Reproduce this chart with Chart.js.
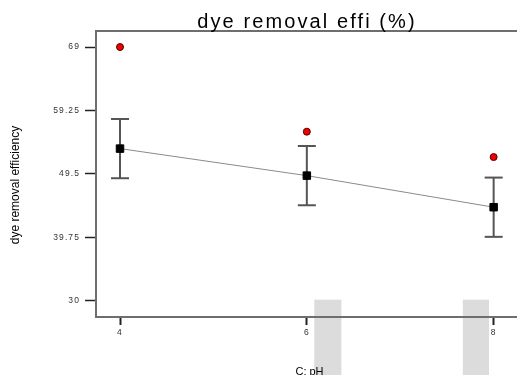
<!DOCTYPE html>
<html>
<head>
<meta charset="utf-8">
<script src="https://cdn.jsdelivr.net/npm/chart.js@4.4.1/dist/chart.umd.min.js"></script>
<style>
  html, body { margin: 0; padding: 0; background: #fff; }
  canvas { display: block; }
</style>
</head>
<body>
<canvas id="c" width="517" height="375"></canvas>
<script>
// pH levels and the model's predicted mean response at each
const phLevels = [4, 6, 8];
const predictedMean = [53.4, 49.25, 44.4];
// half-width of the LSD bar around each mean
const lsdHalfWidth = [4.55, 4.55, 4.55];
// measured design points
const observed = [69.0, 56.0, 52.1];

const yTickValues = [30, 39.75, 49.5, 59.25, 69];
const xTickValues = [4, 6, 8];

// grey bands along the pH axis
const bandFrom = [6.08, 7.67];
const bandTo = [6.37, 7.95];
const bandTop = 30.2;
const bandBottom = 15;

const titleText = 'dye removal effi (%)';
const yTitleText = 'dye removal efficiency';
const xTitleText = 'C: pH';

const FONT = "'Liberation Sans', Arial, Helvetica, sans-serif";
Chart.defaults.font.family = FONT;

// LSD bars as broken line segments: low -> high, then a gap
const lsdSegments = [];
phLevels.forEach((x, i) => {
  lsdSegments.push({ x: x, y: predictedMean[i] - lsdHalfWidth[i] });
  lsdSegments.push({ x: x, y: predictedMean[i] + lsdHalfWidth[i] });
  lsdSegments.push({ x: x, y: null });
});

const meanPoints = phLevels.map((x, i) => ({ x: x, y: predictedMean[i] }));
const observedPoints = phLevels.map((x, i) => ({ x: x, y: observed[i] }));

const X_MIN = 3.743, X_MAX = 8.25;
const Y_MIN = 27.54, Y_MAX = 71.46;
const AXIS_COLOR = '#6e6e6e';

const decor = {
  id: 'decor',
  beforeDraw(chart) {
    const { ctx, scales } = chart;
    const x = scales.x, y = scales.y;
    ctx.save();
    ctx.fillStyle = '#dcdcdc';
    bandFrom.forEach((a, i) => {
      const l = x.getPixelForValue(a);
      const r = x.getPixelForValue(bandTo[i]);
      const t = y.getPixelForValue(bandTop);
      const b = y.getPixelForValue(bandBottom);
      ctx.fillRect(l, t, r - l, b - t);
    });
    ctx.restore();
    // tick labels are set with a little extra tracking
    ctx.letterSpacing = '1.1px';
  },
  afterDraw(chart) {
    const { ctx, chartArea } = chart;
    const cx = (chartArea.left + chartArea.right) / 2;
    ctx.save();
    ctx.fillStyle = '#000';
    ctx.textAlign = 'center';
    ctx.textBaseline = 'alphabetic';

    ctx.letterSpacing = '2.1px';
    ctx.font = '20px ' + FONT;
    ctx.fillText(titleText, cx + 0.5, 28);

    ctx.letterSpacing = '0px';
    ctx.font = '11px ' + FONT;
    ctx.fillText(xTitleText, cx + 3, 374.5);

    ctx.font = '12px ' + FONT;
    ctx.translate(19, 185);
    ctx.rotate(-Math.PI / 2);
    ctx.fillText(yTitleText, 0, 0);
    ctx.restore();
  }
};

new Chart(document.getElementById('c'), {
  type: 'line',
  data: {
    datasets: [
      {
        label: 'observed',
        data: observedPoints,
        showLine: false,
        pointStyle: 'circle',
        pointRadius: 3.5,
        pointBackgroundColor: '#ee0000',
        pointBorderColor: '#550000',
        pointBorderWidth: 1,
        order: 0
      },
      {
        label: 'mean',
        data: meanPoints,
        showLine: false,
        pointStyle: 'rect',
        pointRadius: 5.3,
        pointBackgroundColor: '#000',
        pointBorderColor: '#000',
        pointBorderWidth: 1,
        order: 1
      },
      {
        label: 'lsd',
        data: lsdSegments,
        borderColor: '#555',
        borderWidth: 2,
        spanGaps: false,
        pointStyle: 'line',
        pointRadius: 9,
        pointBorderColor: '#555',
        pointBorderWidth: 2,
        order: 2
      },
      {
        label: 'trend',
        data: meanPoints,
        borderColor: '#8a8a8a',
        borderWidth: 1,
        pointRadius: 0,
        order: 3
      }
    ]
  },
  options: {
    responsive: false,
    animation: false,
    events: [],
    devicePixelRatio: 1,
    layout: { autoPadding: false, padding: { top: 31, left: 0, right: 0, bottom: 0 } },
    plugins: {
      legend: { display: false },
      title: { display: false },
      tooltip: { enabled: false }
    },
    scales: {
      x: {
        type: 'linear',
        position: 'bottom',
        min: X_MIN,
        max: X_MAX,
        afterBuildTicks: s => { s.ticks = xTickValues.map(v => ({ value: v })); },
        afterFit: s => { s.height = 58; },
        grid: { display: true, drawOnChartArea: false, drawTicks: true, tickLength: 8, tickColor: '#222', tickWidth: 2 },
        border: { display: true, color: AXIS_COLOR, width: 2 },
        ticks: { padding: 3, color: '#333', font: { size: 8.5 }, maxRotation: 0, autoSkip: false, callback: v => String(v) }
      },
      xTop: {
        type: 'linear',
        position: 'top',
        min: X_MIN,
        max: X_MAX,
        afterFit: s => { s.height = 0; },
        grid: { display: true, drawOnChartArea: false, drawTicks: false },
        border: { display: true, color: AXIS_COLOR, width: 2 },
        ticks: { display: false }
      },
      y: {
        type: 'linear',
        position: 'left',
        min: Y_MIN,
        max: Y_MAX,
        afterBuildTicks: s => { s.ticks = yTickValues.map(v => ({ value: v })); },
        afterFit: s => { s.width = 96; },
        grid: { display: true, drawOnChartArea: false, drawTicks: true, tickLength: 11, tickColor: '#222', tickWidth: 1.5 },
        border: { display: true, color: AXIS_COLOR, width: 2 },
        ticks: { padding: 5, color: '#333', font: { size: 8.5 }, autoSkip: false, callback: v => String(v) }
      }
    }
  },
  plugins: [decor]
});
</script>
</body>
</html>
